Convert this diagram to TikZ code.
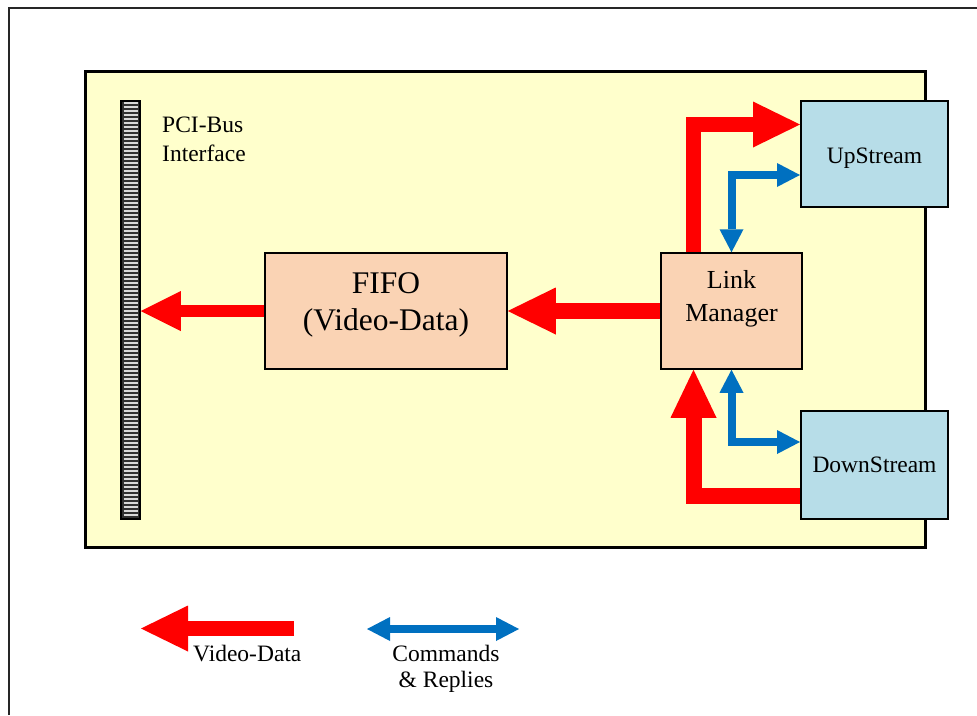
\documentclass[tikz,border=0pt]{standalone}
\usepackage{fontspec}
\setmainfont{Liberation Serif}
\usetikzlibrary{arrows.meta}
\definecolor{boardyellow}{HTML}{FFFFCC}
\definecolor{peach}{HTML}{FAD3B4}
\definecolor{portblue}{HTML}{B7DDE8}
\definecolor{cmdblue}{HTML}{0070C0}
\definecolor{stripedark}{HTML}{303030}
\definecolor{stripelight}{HTML}{D8D8D8}

\begin{document}
\begin{tikzpicture}[x=1pt,y=-1pt,
  box/.style={draw=black, line width=1.5pt, fill=peach, inner sep=0pt},
  port/.style={draw=black, line width=2pt, fill=portblue, inner sep=0pt, minimum width=147pt},
  txt/.style={anchor=base, inner sep=0pt, font=\fontsize{23.5}{28}\selectfont},
  vid/.style n args={3}{draw=red, line width=#1, -{Triangle[length=#2, width=#3, line width=0pt]}},
  cmdtip/.style={Triangle[length=23pt, width=24pt, line width=0pt]},
  cmd/.style={draw=cmdblue, line width=8pt, {Triangle[length=23pt, width=24pt, line width=0pt]}-{Triangle[length=23pt, width=24pt, line width=0pt]}},
]
\useasboundingbox (0,0) rectangle (977,715);
\fill[white] (0,0) rectangle (977,715);

% page frame (runs past the right and bottom edges)
\draw[line width=2pt, black!85] (9,715) -- (9,8) -- (977,8);

% the board
\node[draw=black, line width=3pt, fill=boardyellow, inner sep=0pt,
      minimum width=840pt, minimum height=476pt] (board) at (505,309) {};

% PCI edge connector
\node[draw=black, line width=1.5pt, fill=stripedark, inner sep=0pt,
      minimum width=19pt, minimum height=418pt] (pci) at (130.5,310) {};
\foreach \yy in {103,107,...,517}
  \draw[stripelight, line width=2pt] (123.5,\yy) -- (137.5,\yy);
\node[anchor=base west, inner sep=0pt, font=\fontsize{23.5}{28}\selectfont] (pci1) at (162,132) {PCI-Bus};
\node[anchor=base west, inner sep=0pt, font=\fontsize{23.5}{28}\selectfont] (pci2) at (162,161) {Interface};

% functional blocks
\node[box, minimum width=242pt, minimum height=116pt] (fifo) at (386,311) {};
\node[box, minimum width=141pt, minimum height=116pt] (lm) at (731.5,311) {};
\node[port, minimum height=106pt] (up) at (874.5,154) {};
\node[port, minimum height=108pt] (down) at (874.5,465) {};

\node[txt, font=\fontsize{31.5}{37}\selectfont] (fifo1) at (386,293) {FIFO};
\node[txt, font=\fontsize{31.5}{37}\selectfont] (fifo2) at (386,330) {(Video-Data)};
\node[txt, font=\fontsize{26}{31}\selectfont] (lm1) at (731.5,288) {Link};
\node[txt, font=\fontsize{26}{31}\selectfont] (lm2) at (731.5,321) {Manager};
\node[txt] (uptxt) at (874.5,163) {UpStream};
\node[txt] (downtxt) at (874.5,472) {DownStream};

% video data paths
\draw[vid={12pt}{40pt}{40pt}] (fifo.west) -- (pci.east |- fifo.west);
\draw[vid={16pt}{48pt}{47pt}] (lm.west) -- (fifo.east);
\draw[vid={15pt}{47pt}{46pt}] ([xshift=-38pt]lm.north) |- ([yshift=29.5pt]up.west);
\draw[vid={16pt}{48pt}{46pt}] ([yshift=-31pt]down.west) -| ([xshift=-38pt]lm.south);

% command / reply paths
\draw[cmd] ([yshift=-21pt]up.west) -| (lm.north);
\draw[cmd] (lm.south) |- ([yshift=23pt]down.west);

% legend
\coordinate (vidtail) at (294,628.5);
\coordinate (vidhead) at (141,628.5);
\draw[vid={15pt}{47pt}{46pt}] (vidtail) -- (vidhead);
\node[anchor=base west, inner sep=0pt, font=\fontsize{23.5}{28}\selectfont] (vidlbl) at (193,661) {Video-Data};

\coordinate (cmdleft) at (367,629);
\coordinate (cmdright) at (519,629);
\draw[cmd] (cmdleft) -- (cmdright);
\node[txt] (cmdlbl1) at (446,661) {Commands};
\node[txt] (cmdlbl2) at (446,687) {\& Replies};
\end{tikzpicture}
\end{document}
